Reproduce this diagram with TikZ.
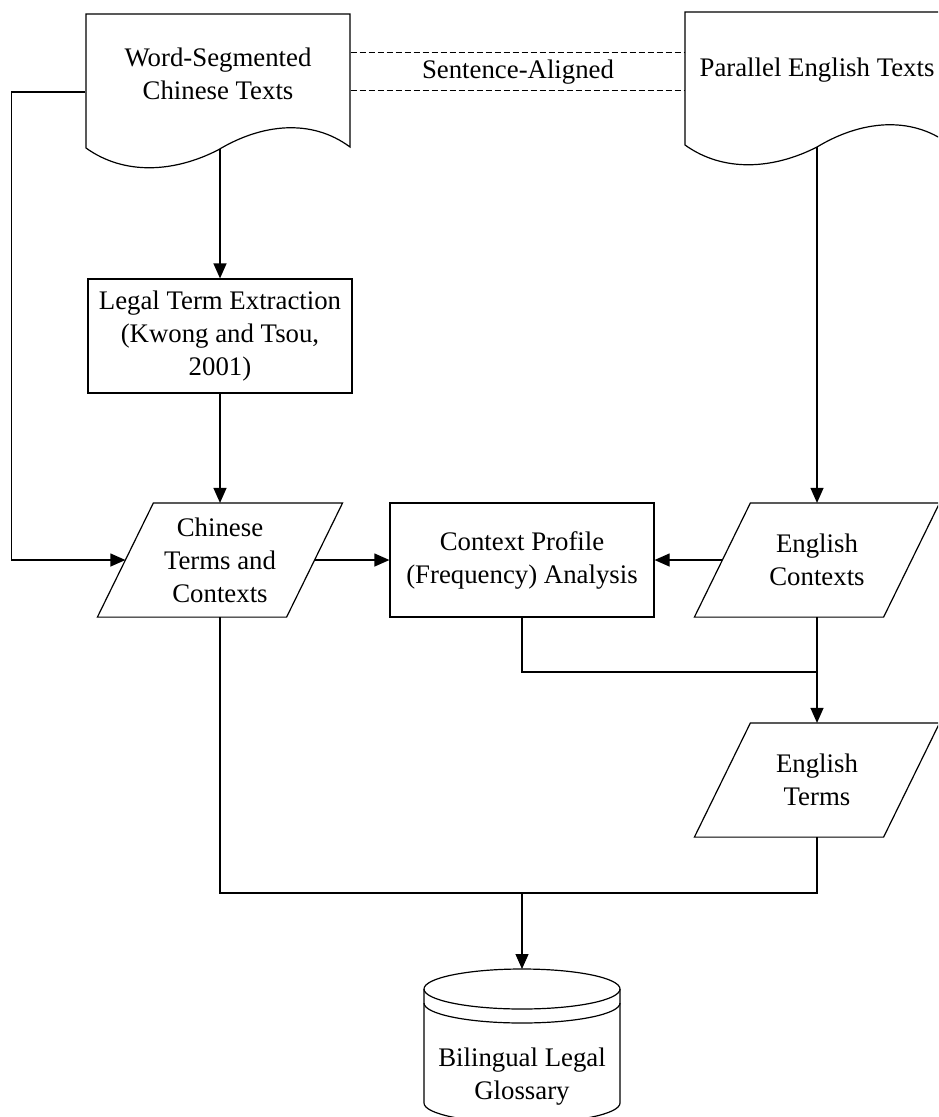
\documentclass[tikz,border=0pt]{standalone}
\usepackage{fontspec}
\setmainfont{Liberation Serif}
\usetikzlibrary{arrows.meta,calc}
\tikzset{>={Triangle[length=15pt,width=13pt]}}

\begin{document}
\begin{tikzpicture}[x=1pt,y=-1pt,line width=1.2pt,
  every node/.style={font=\fontsize{26.8}{33}\selectfont,align=center,inner sep=0pt},
  proc/.style={draw,minimum width=264pt,minimum height=114pt},
  io/.style={minimum width=188pt,minimum height=113pt},
  doctext/.style={minimum width=264pt}]
\useasboundingbox (0,0) rectangle (938,1117);
\clip (0,0) rectangle (938,1117);
% the two documents
\draw (86,148) -- (86,14) -- (350,14) -- (350,147) .. controls (311,118) and (261,124) .. (218,150) .. controls (175,172) and (125,176) .. (86,148) -- cycle;
\draw (685,145) -- (685,12) -- (949,12) -- (949,144) .. controls (910,115) and (860,121) .. (817,147) .. controls (774,169) and (724,173) .. (685,145) -- cycle;
\node[doctext] (cdoc) at (218,74) {Word-Segmented\\Chinese Texts};
\node[doctext] (edoc) at (817,70) {Parallel English Texts};
\coordinate (cdocb) at (220,149);
\coordinate (edocb) at (817,147);
\node (salign) at (518,72) {Sentence-Aligned};
\draw[dash pattern=on 6pt off 3pt,line width=.9pt] ([yshift=22pt]cdoc.east) -- ([yshift=22pt]cdoc.east -| edoc.west);
\draw[dash pattern=on 6pt off 3pt,line width=.9pt] ([yshift=-16pt]cdoc.east) -- ([yshift=-16pt]cdoc.east -| edoc.west);
% boxes
\node[proc] (legal) at (220,336) {Legal Term Extraction\\(Kwong and Tsou,\\2001)};
\node[proc] (cpa) at (522,560) {Context Profile\\(Frequency) Analysis};
\node[io] (cterms) at (220,560) {Chinese\\Terms and\\Contexts};
\node[io] (econt) at (817,560) {English\\Contexts};
\node[io] (eterms) at (817,780) {English\\Terms};
\foreach \n in {cterms,econt,eterms}
  \draw ([xshift=28pt]\n.north west) -- ([xshift=28pt]\n.north east) -- ([xshift=-28pt]\n.south east) -- ([xshift=-28pt]\n.south west) -- cycle;
% glossary
\draw (522,989) ellipse[x radius=98,y radius=20];
\draw (424,989) -- (424,1003) arc[start angle=180,end angle=0,x radius=98,y radius=20] -- (620,989);
\draw (424,1003) -- (424,1103) arc[start angle=180,end angle=0,x radius=98,y radius=20] -- (620,1003);
\node (gloss) at (522,1077) {Bilingual Legal\\Glossary};
\coordinate (glosstop) at (522,969);
\coordinate (join) at (817,672);
\coordinate (merge) at (522,893);
% connectors
\draw[->] (cdocb) -- (legal.north);
\draw[->] ([yshift=-18pt]cdoc.west) -- ++(-74,0) |- (cterms.west);
\draw[->] (legal.south) -- (cterms.north);
\draw[->] (cterms.east) -- (cpa.west);
\draw[->] (edocb) -- (econt.north);
\draw[->] (econt.west) -- (cpa.east);
\draw[->] (econt.south) -- (eterms.north);
\draw (cpa.south) |- (join);
\draw (cterms.south) |- (merge);
\draw (eterms.south) |- (merge);
\draw[->] (merge) -- (glosstop);
\end{tikzpicture}
\end{document}
